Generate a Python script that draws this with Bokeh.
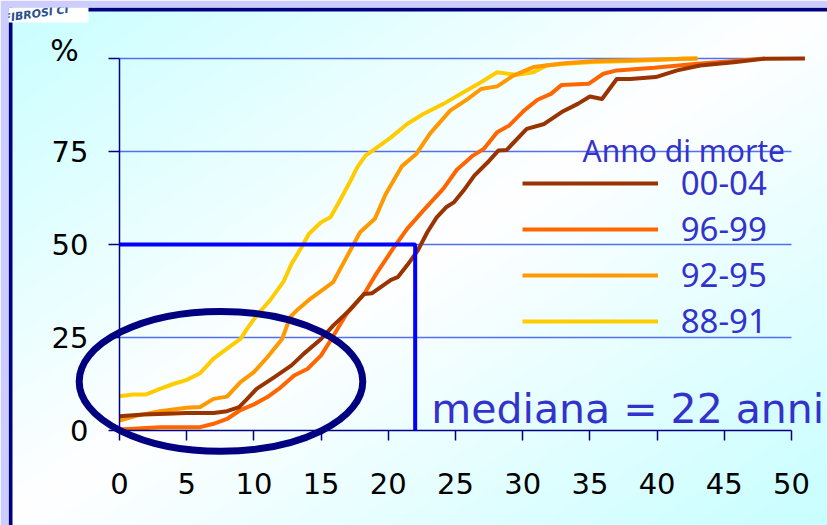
import numpy as np
from bokeh.plotting import figure
from bokeh.models import Range1d, FixedTicker, Legend, LegendItem, Label, BoxAnnotation
from bokeh.embed import file_html
from bokeh.resources import INLINE

# ---------------- data ----------------
x_tick_values = [0, 5, 10, 15, 20, 25, 30, 35, 40, 45, 50]
y_tick_values = [0, 25, 50, 75, 100]
y_grid_values = [25, 50, 75, 100]

periods = ["00-04", "96-99", "92-95", "88-91"]

age_0004 = [0, 1.8, 3.5, 5, 7, 8, 8.9, 9.5, 10.2, 11.5, 12.8, 13.7, 15.0, 15.9, 17.1, 18.2,
            18.8, 20.2, 20.7, 21.4, 22.2, 22.9, 23.6, 24.3, 24.9, 25.6, 26.4, 27.4, 28.2,
            28.8, 30.3, 31.6, 32.9, 34.1, 35.0, 35.9, 37.0, 38.0, 39.9, 41.5, 43.2, 45.7,
            47.9, 51.0]
pct_0004 = [3.8, 4.3, 4.5, 4.7, 4.7, 5.2, 6.3, 8.5, 11.2, 14.3, 17.5, 20.6, 24.6, 28.2,
            32.3, 36.7, 36.9, 40.5, 41.2, 44.4, 48.4, 53.3, 57.3, 60.0, 61.4, 64.5, 68.5,
            72.1, 75.3, 75.4, 81.1, 82.4, 85.6, 87.8, 89.8, 89.1, 94.5, 94.5, 95.0, 96.8,
            98.1, 99.0, 99.9, 100]

age_9699 = [0, 3, 6, 7, 8, 9, 10, 11, 12, 13, 14, 15, 15.7, 16.9, 18.2, 19.1, 20.3, 21.4,
            22.6, 24.1, 25.1, 26.3, 27.1, 28.1, 29.0, 30.1, 31.1, 32.1, 32.9, 34.9, 36.0,
            37.0, 39.8, 43.0, 46.0, 48.0]
pct_9699 = [0.3, 0.9, 0.9, 1.8, 3.1, 5.5, 7.0, 9.0, 11.6, 14.8, 16.6, 20.2, 24.2, 31.4,
            36.7, 42.1, 48.6, 54.2, 59.1, 65.0, 70.1, 73.9, 75.7, 80.2, 82.0, 86.0, 88.9,
            90.5, 92.9, 93.2, 95.9, 96.8, 97.5, 98.6, 99.4, 100]

age_9295 = [0, 1.3, 3, 5, 6, 7, 8, 9, 10, 11, 12.1, 12.7, 13.2, 14.2, 15.9, 16.9, 17.9,
            19.0, 19.8, 21.0, 22.1, 23.1, 24.6, 25.9, 26.9, 28.1, 29.3, 30.8, 33.1, 35.5,
            38.0, 40.0, 43.0]
pct_9295 = [2.7, 4.0, 5.2, 6.1, 6.3, 8.5, 9.1, 13.0, 15.7, 19.7, 24.6, 30.5, 32.3, 35.4,
            39.9, 46.6, 53.3, 56.9, 63.5, 71.0, 74.4, 79.8, 86.0, 89.1, 91.8, 92.5, 95.4,
            97.7, 98.7, 99.3, 99.5, 99.7, 100]

age_8891 = [0, 1, 2, 3, 4, 5, 6, 7, 8, 9, 9.5, 10.2, 11.2, 12.2, 12.8, 13.5, 14.1, 15.0,
            15.7, 16.4, 17.2, 17.7, 18.3, 19.2, 20.2, 21.4, 22.6, 24.1, 25.6, 26.9, 28.1,
            29.6, 30.8, 31.8, 33.0, 35.0, 38.0, 40.0, 42.0, 43.0]
pct_8891 = [9.2, 9.7, 9.7, 11.2, 12.5, 13.6, 15.4, 19.3, 22.0, 24.6, 27.4, 30.9, 35.0,
            40.0, 44.8, 49.0, 52.9, 56.0, 57.3, 61.8, 67.2, 70.8, 73.9, 76.2, 78.8, 82.4,
            85.1, 87.8, 90.9, 93.6, 96.3, 95.6, 96.3, 98.1, 98.5, 99.0, 99.3, 99.6, 100, 100]

median_age = 22
median_pct = 50

# ---------------- styles / geometry ----------------
period_colors = {"00-04": "#993300", "96-99": "#ff6600", "92-95": "#ff9900", "88-91": "#ffcc00"}
series = {"00-04": (age_0004, pct_0004), "96-99": (age_9699, pct_9699),
          "92-95": (age_9295, pct_9295), "88-91": (age_8891, pct_8891)}

W, H = 827, 525
BL, BT = 8, 7
FW, FH = W - BL, H - BT
XPX = 13.44
YPX = 3.72
x_start = -(119 - BL) / XPX
x_end = x_start + FW / XPX
y_end = 100 + (58 - BT) / YPX
y_start = y_end - FH / YPX

p = figure(width=W, height=H, output_backend="svg", toolbar_location=None,
           x_range=Range1d(x_start, x_end), y_range=Range1d(y_start, y_end),
           min_border_left=BL, min_border_top=BT, min_border_right=0, min_border_bottom=0,
           border_fill_color="#ccccff", background_fill_color="#eafeff")
p.outline_line_color = None

# background gradient (diagonal, white in the middle, cyan at corners)
gw, gh = 273, 172
cols = (np.arange(gw) + 0.5) / gw
rows = (np.arange(gh) + 0.5) / gh
page_x = BL + cols * FW
page_y = BT + (1 - rows) * FH
t = page_x[None, :] / 827.0 + page_y[:, None] / 525.0
d = np.clip(np.abs(t - 1.0), 0, 1)
cyan = np.array([200, 254, 255])
white = np.array([255, 255, 255])
rgb = white[None, None, :] * (1 - d[..., None]) + cyan[None, None, :] * d[..., None]
img = np.empty((gh, gw), dtype=np.uint32)
view = img.view(dtype=np.uint8).reshape((gh, gw, 4))
view[..., 0] = rgb[..., 0].astype(np.uint8)
view[..., 1] = rgb[..., 1].astype(np.uint8)
view[..., 2] = rgb[..., 2].astype(np.uint8)
view[..., 3] = 255
p.image_rgba(image=[img], x=x_start, y=y_start, dw=x_end - x_start, dh=y_end - y_start,
             level="image")

# navy frame lines (left and top)
p.add_layout(BoxAnnotation(right=4, right_units="screen", fill_color="#000080",
                           fill_alpha=1, line_color=None, level="overlay"))
p.add_layout(BoxAnnotation(bottom=FH - 4, bottom_units="screen", fill_color="#000080",
                           fill_alpha=1, line_color=None, level="overlay"))

# axes
for ax in (p.xaxis, p.yaxis):
    ax.axis_line_color = "#000080"
    ax.axis_line_width = 1.5
    ax.major_tick_line_color = "#000080"
    ax.major_tick_line_width = 1.5
    ax.major_tick_in = 0
    ax.minor_tick_line_color = None
    ax.major_label_text_font = "DejaVu Sans"
    ax.major_label_text_font_size = "29px"
    ax.major_label_text_color = "black"

p.xaxis.fixed_location = 0
p.yaxis.fixed_location = 0
p.xaxis.bounds = (0, 50)
p.yaxis.bounds = (0, 100)
p.xaxis.ticker = FixedTicker(ticks=x_tick_values)
p.yaxis.ticker = FixedTicker(ticks=y_tick_values)
p.yaxis.major_label_overrides = {100: ""}
p.xaxis.major_tick_out = 10
p.yaxis.major_tick_out = 11
p.xaxis.major_label_standoff = 32
p.yaxis.major_label_standoff = 20

p.xgrid.visible = False
p.ygrid.ticker = FixedTicker(ticks=y_grid_values)
p.ygrid.grid_line_color = "#4f70f0"
p.ygrid.grid_line_width = 1.5
try:
    p.ygrid.cross_bounds = (0, 50)
except Exception:
    pass

# curves
renderers = {}
for name in ["88-91", "92-95", "96-99", "00-04"]:
    xs, ys = series[name]
    renderers[name] = p.line(xs, ys, line_color=period_colors[name], line_width=4,
                             line_join="round")

# median lines
p.line([0, median_age, median_age], [median_pct, median_pct, 0], line_color="#0000ff",
       line_width=4)

# ellipse highlight
p.ellipse(x=[7.55], y=[13.2], width=[21.1], height=[37.6], fill_color=None,
          line_color="#000080", line_width=7)

legend = Legend(items=[LegendItem(label=n, renderers=[renderers[n]]) for n in periods],
                location=(513.7, 182), glyph_width=136, glyph_height=44, label_height=44,
                label_standoff=23, spacing=1, padding=0, margin=0,
                border_line_color=None, background_fill_alpha=0,
                label_text_font="Noto Sans", label_text_font_size="33px",
                label_text_color="#3333cc")
p.add_layout(legend)

p.add_layout(Label(x=34.45, y=75.4, text="Anno di morte", text_font="Noto Sans",
                   text_font_size="30px", text_color="#3333cc", text_baseline="alphabetic"))
p.add_layout(Label(x=23.2, y=5.9, text="mediana = 22 anni", text_font="DejaVu Sans",
                   text_font_size="41px", text_color="#3333cc", text_baseline="alphabetic"))
p.add_layout(Label(x=-4.1, y=102.2, text="%", text_font="DejaVu Sans",
                   text_font_size="30px", text_color="black", text_align="center",
                   text_baseline="middle"))

# logo corner
p.add_layout(BoxAnnotation(left=-BL, right=88 - BL, bottom=FH + BT - 22, top=FH + BT,
                           left_units="screen", right_units="screen",
                           bottom_units="screen", top_units="screen",
                           fill_color="white", fill_alpha=1, line_color=None,
                           level="overlay"))
p.add_layout(Label(x=3 - BL, y=FH + BT - 18, x_units="screen", y_units="screen",
                   text="FIBROSI CI", angle=0.14, text_font="DejaVu Sans",
                   text_font_style="bold italic", text_font_size="11px",
                   text_color="#2a5090", text_baseline="alphabetic", level="overlay"))

open("out.html", "w").write(file_html(p, INLINE))
